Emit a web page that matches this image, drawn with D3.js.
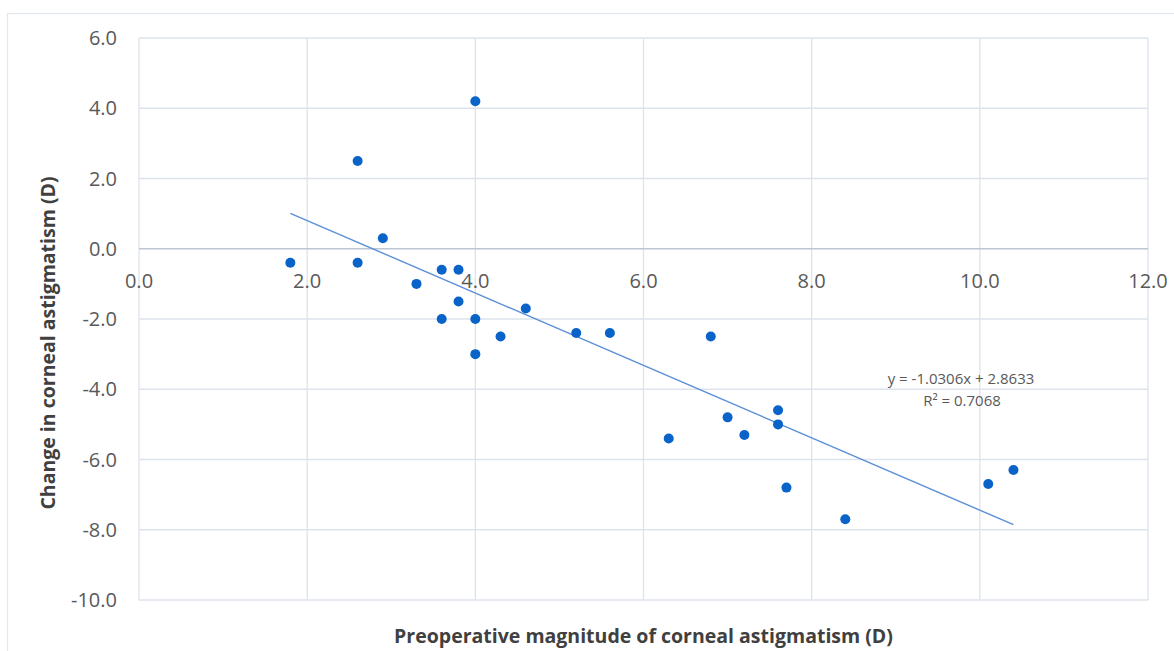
<!DOCTYPE html>
<html>
<head>
<meta charset="utf-8">
<script src="https://cdn.jsdelivr.net/npm/d3@7"></script>
<style>
  body { margin: 0; background: #fff; }
  svg { display: block; font-family: "Open Sans", "Noto Sans", sans-serif; }
  .grid line { stroke: #dde3ec; stroke-width: 1.3; }
  .tick-label { fill: #595959; font-size: 20px; }
  .axis-title { fill: #404040; font-size: 19.5px; font-weight: bold; }
  .trend-label { fill: #595959; font-size: 15px; }
</style>
</head>
<body>
<div class="chart"></div>
<script>
// preoperative magnitude (D) and change (D), one entry per eye
var preopMagnitude = [1.8, 2.6, 2.6, 2.9, 3.3, 3.6, 3.8, 3.8, 3.6, 4.0, 4.0, 4.0, 4.3,
                      4.6, 5.2, 5.6, 6.8, 6.3, 7.0, 7.2, 7.6, 7.6, 7.7, 8.4, 10.1, 10.4];
var changeAstig   = [-0.4, 2.5, -0.4, 0.3, -1.0, -0.6, -0.6, -1.5, -2.0, -2.0, 4.2, -3.0, -2.5,
                     -1.7, -2.4, -2.4, -2.5, -5.4, -4.8, -5.3, -4.6, -5.0, -6.8, -7.7, -6.7, -6.3];

var xTicks = [0, 2, 4, 6, 8, 10, 12];
var yTicks = [6, 4, 2, 0, -2, -4, -6, -8, -10];

var trendSlope = -1.0306,
    trendIntercept = 2.8633,
    trendR2 = 0.7068;

var width = 1174,
    height = 651;

var plot = {left: 139, right: 1148, top: 38, bottom: 600};

// plain hyphen for negatives, like the spreadsheet
function fmt(d) { return d.toFixed(1); }

var svg = d3.select(".chart").append("svg")
    .attr("width", width)
    .attr("height", height);

// outer chart frame (only top and left visible in the crop)
svg.append("rect")
    .attr("x", 7.5)
    .attr("y", 13.5)
    .attr("width", width + 20)
    .attr("height", height + 20)
    .attr("fill", "none")
    .attr("stroke", "#e3e8ee")
    .attr("stroke-width", 1.3);

var x = d3.scaleLinear().domain([0, 12]).range([plot.left, plot.right]);
var y = d3.scaleLinear().domain([-10, 6]).range([plot.bottom, plot.top]);

var grid = svg.append("g").attr("class", "grid");

grid.selectAll(".vgrid")
  .data(xTicks)
  .enter().append("line")
    .attr("x1", function(d) { return x(d); })
    .attr("x2", function(d) { return x(d); })
    .attr("y1", plot.top)
    .attr("y2", plot.bottom);

grid.selectAll(".hgrid")
  .data(yTicks)
  .enter().append("line")
    .attr("x1", plot.left)
    .attr("x2", plot.right)
    .attr("y1", function(d) { return y(d); })
    .attr("y2", function(d) { return y(d); })
    .style("stroke", function(d) { return d === 0 ? "#bcc6d4" : null; });

// y tick labels
svg.append("g").selectAll("text")
  .data(yTicks)
  .enter().append("text")
    .attr("class", "tick-label")
    .attr("x", plot.left - 22)
    .attr("y", function(d) { return y(d); })
    .attr("dy", "0.35em")
    .attr("text-anchor", "end")
    .text(fmt);

// x tick labels sit under the zero line
svg.append("g").selectAll("text")
  .data(xTicks)
  .enter().append("text")
    .attr("class", "tick-label")
    .attr("x", function(d) { return x(d); })
    .attr("y", y(0) + 32)
    .attr("dy", "0.35em")
    .attr("text-anchor", "middle")
    .text(fmt);

// linear trendline over the data range
var xExtent = d3.extent(preopMagnitude);
var trendLine = d3.line()
    .x(function(d) { return x(d); })
    .y(function(d) { return y(trendSlope * d + trendIntercept); });

svg.append("path")
    .datum(xExtent)
    .attr("d", trendLine)
    .attr("fill", "none")
    .attr("stroke", "#5a8fd8")
    .attr("stroke-width", 1.4);

// points
svg.append("g").selectAll("circle")
  .data(preopMagnitude)
  .enter().append("circle")
    .attr("cx", function(d) { return x(d); })
    .attr("cy", function(d, i) { return y(changeAstig[i]); })
    .attr("r", 5)
    .attr("fill", "#0a63c9");

// trendline label
svg.append("text")
    .attr("class", "trend-label")
    .attr("x", 961)
    .attr("y", 384)
    .attr("text-anchor", "middle")
    .text("y = " + trendSlope.toFixed(4) + "x + " + trendIntercept.toFixed(4));

svg.append("text")
    .attr("class", "trend-label")
    .attr("x", 962)
    .attr("y", 406)
    .attr("text-anchor", "middle")
    .text("R\u00b2 = " + trendR2.toFixed(4));

// axis titles
svg.append("text")
    .attr("class", "axis-title")
    .attr("x", (plot.left + plot.right) / 2)
    .attr("y", 643)
    .attr("text-anchor", "middle")
    .text("Preoperative magnitude of corneal astigmatism (D)");

svg.append("text")
    .attr("class", "axis-title")
    .attr("transform", "translate(55,343)rotate(-90)")
    .attr("text-anchor", "middle")
    .text("Change in corneal astigmatism (D)");
</script>
</body>
</html>
